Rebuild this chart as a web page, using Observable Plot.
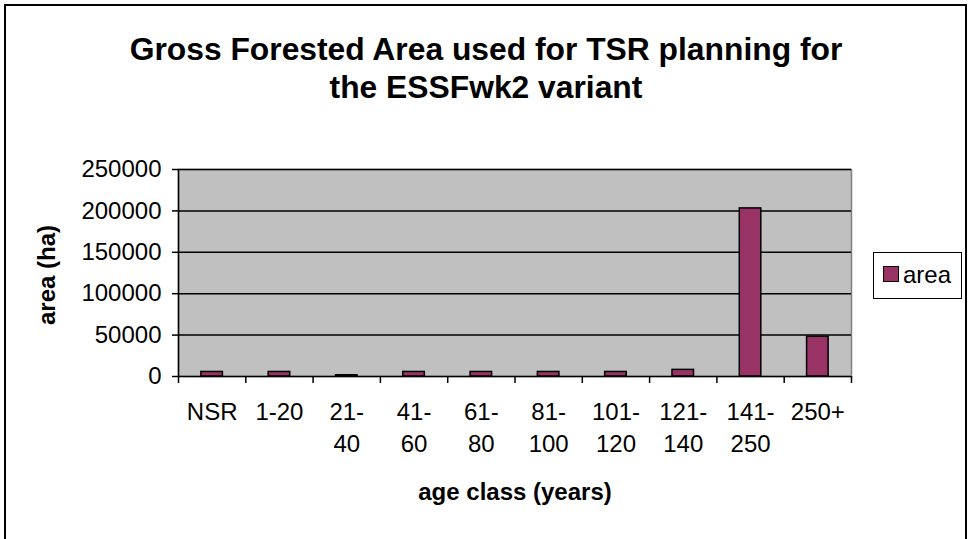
<!DOCTYPE html>
<html>
<head>
<meta charset="utf-8">
<script src="https://cdn.jsdelivr.net/npm/d3@7"></script>
<script src="https://cdn.jsdelivr.net/npm/@observablehq/plot@0.6"></script>
<style>
  html, body { margin: 0; padding: 0; background: #fff; }
  #wrap { position: relative; width: 972px; height: 539px; overflow: hidden; font-family: "Liberation Sans", Arial, sans-serif; }
  #border { position: absolute; left: 4px; top: 4px; width: 963px; height: 540px; border: 2px solid #000; box-sizing: border-box; }
  #title { position: absolute; left: 0; top: 30px; width: 972px; text-align: center; font-size: 31.8px; line-height: 38px; font-weight: bold; color: #000; }
  #chart { position: absolute; left: 0; top: 0; }
  #legend { position: absolute; left: 873px; top: 252px; width: 89px; height: 47px; border: 1px solid #000; box-sizing: border-box; background: #fff; }
  #legend .sw { position: absolute; left: 9px; top: 13px; width: 16px; height: 16px; background: #993366; border: 1px solid #000; box-sizing: border-box; }
  #legend .lb { position: absolute; left: 29px; top: 8px; font-size: 24px; line-height: 28px; color: #000; }
</style>
</head>
<body>
<div id="wrap">
  <div id="border"></div>
  <div id="chart"></div>
  <div id="title">Gross Forested Area used for TSR planning for<br>the ESSFwk2 variant</div>
  <div id="legend"><div class="sw"></div><div class="lb">area</div></div>
</div>
<script>
const categories = ["NSR", "1-20", "21-40", "41-60", "61-80", "81-100", "101-120", "121-140", "141-250", "250+"];
const tickLabels = ["NSR", "1-20", "21-\n40", "41-\n60", "61-\n80", "81-\n100", "101-\n120", "121-\n140", "141-\n250", "250+"];
const areaValues = [5500, 5500, 1500, 5500, 5500, 5500, 5500, 8000, 203000, 48000];
const yTicks = [0, 50000, 100000, 150000, 200000, 250000];
const seriesName = "area";
const xTitle = "age class (years)";
const yTitle = "area (ha)";

const data = categories.map((c, i) => ({i, category: c, label: tickLabels[i], area: areaValues[i]}));
const boundaries = d3.range(categories.length + 1);

const chart = Plot.plot({
  width: 972,
  height: 539,
  marginLeft: 178,
  marginRight: 121,
  marginTop: 169,
  marginBottom: 163,
  style: {background: "transparent", fontFamily: "'Liberation Sans', Arial, sans-serif", fontSize: "24px", color: "#000", overflow: "visible"},
  x: {domain: [0, categories.length], axis: null},
  y: {domain: [0, 250000], axis: null},
  marks: [
    Plot.frame({fill: "#c0c0c0", stroke: "#808080", strokeWidth: 1.5}),
    Plot.gridY(yTicks.filter(t => t > 0), {stroke: "#000", strokeOpacity: 1, strokeWidth: 1.5}),
    Plot.rectY(data, {x1: d => d.i + 0.34, x2: d => d.i + 0.66, y1: 0, y2: "area", fill: "#993366", stroke: "#000", strokeWidth: 1.5}),
    Plot.ruleX([0], {stroke: "#000", strokeWidth: 1.5}),
    Plot.ruleY([0], {stroke: "#000", strokeWidth: 1.5}),
    Plot.axisY({ticks: yTicks, tickSize: 6, tickPadding: 11, tickFormat: d => String(d), fontSize: 24, stroke: "#000", strokeWidth: 1.5, label: null}),
    Plot.axisX({ticks: boundaries, tickSize: 7, tickFormat: () => "", stroke: "#000", strokeWidth: 1.5, label: null}),
    Plot.text(data, {x: d => d.i + 0.5, text: "label", frameAnchor: "bottom", lineAnchor: "top", dy: 21, lineHeight: 1.33, fontSize: 24, fill: "#000"}),
    Plot.text([xTitle], {frameAnchor: "bottom", dy: 123, fontSize: 24, fontWeight: "bold", fill: "#000"}),
    Plot.text([yTitle], {frameAnchor: "left", textAnchor: "middle", dx: -131, dy: 2, rotate: -90, fontSize: 24, fontWeight: "bold", fill: "#000"})
  ]
});
document.getElementById("chart").appendChild(chart);
document.querySelector("#legend .lb").textContent = seriesName;
</script>
</body>
</html>
